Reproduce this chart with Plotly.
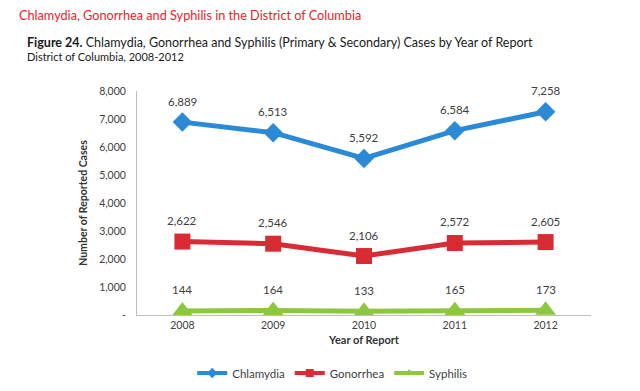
import plotly.graph_objects as go

years = ["2008", "2009", "2010", "2011", "2012"]
chlamydia = [6889, 6513, 5592, 6584, 7258]
gonorrhea = [2622, 2546, 2106, 2572, 2605]
syphilis = [144, 164, 133, 165, 173]
y_ticks = [0, 1000, 2000, 3000, 4000, 5000, 6000, 7000, 8000]
y_tick_labels = ["-", "1,000", "2,000", "3,000", "4,000", "5,000", "6,000", "7,000", "8,000"]

FONT = "Lato"
series = [
    ("Chlamydia", chlamydia, "#2b8ad6", "diamond", 15),
    ("Gonorrhea", gonorrhea, "#d92b34", "square", 16),
    ("Syphilis", syphilis, "#8dc63f", "triangle-up", 18),
]

PW = 454  # plot width in px
PH = 224  # plot height in px

fig = go.Figure()
annotations = []
for name, vals, color, sym, size in series:
    fig.add_trace(go.Scatter(
        x=years, y=vals, name=name, mode="lines+markers", showlegend=False,
        line=dict(color=color, width=5),
        marker=dict(symbol=sym, size=size, color=color, line=dict(width=0)),
    ))
    for i, v in enumerate(vals):
        annotations.append(dict(
            x=i, y=v, xref="x", yref="y", text=f"{v:,}", showarrow=False,
            yshift=21, font=dict(family=FONT, size=11.5, color="#404040"),
        ))

# legend-only entries with compact symbols
for name, vals, color, sym, size in series:
    fig.add_trace(go.Scatter(
        x=[None], y=[None], name=name, mode="lines+markers", showlegend=True,
        line=dict(color=color, width=4),
        marker=dict(symbol=sym, size=8, color=color, line=dict(width=0)),
    ))

annotations += [
    dict(xref="paper", yref="paper", x=(17 - 137) / PW, y=1 + (91 - 15) / PH, xanchor="left", yanchor="middle",
         text="Chlamydia, Gonorrhea and Syphilis in the District of Columbia", showarrow=False,
         font=dict(family=FONT, size=12.7, color="#ec1c2a")),
    dict(xref="paper", yref="paper", x=(25 - 137) / PW, y=1 + (91 - 42) / PH, xanchor="left", yanchor="middle",
         text="<b>Figure 24.</b> Chlamydia, Gonorrhea and Syphilis (Primary &amp; Secondary) Cases by Year of Report",
         showarrow=False, font=dict(family=FONT, size=12.5, color="#1a1a1a")),
    dict(xref="paper", yref="paper", x=(25 - 137) / PW, y=1 + (91 - 56) / PH, xanchor="left", yanchor="middle",
         text="District of Columbia, 2008-2012", showarrow=False,
         font=dict(family=FONT, size=11, color="#1a1a1a")),
]

fig.update_layout(
    width=632, height=383,
    margin=dict(l=129, r=49, t=83, b=76),
    paper_bgcolor="white", plot_bgcolor="white",
    font=dict(family=FONT, color="#404040"),
    showlegend=True,
    legend=dict(orientation="h", xref="container", yref="container", x=0.513, xanchor="center",
                y=18 / 383, yanchor="middle",
                font=dict(family=FONT, size=11.5, color="#404040"), tracegroupgap=0),
    annotations=annotations,
    xaxis=dict(type="category", range=[-0.5, 4.5], showgrid=False, showline=True,
               linecolor="#bfbfbf", linewidth=1, ticks="", tickfont=dict(size=10.5, color="#404040"),
               automargin=False,
               title=dict(text="<b>Year of Report</b>", font=dict(size=11, color="#333333"), standoff=6)),
    yaxis=dict(range=[0, 8000], tickvals=y_ticks, ticktext=y_tick_labels, showgrid=False,
               showline=True, linecolor="#bfbfbf", linewidth=1, ticks="", zeroline=False,
               automargin=False,
               tickfont=dict(size=10.5, color="#404040"), ticklabelstandoff=8,
               title=dict(text="<b>Number of Reported Cases</b>", font=dict(size=10.5, color="#333333"), standoff=9)),
)

fig.write_html("out.html")
